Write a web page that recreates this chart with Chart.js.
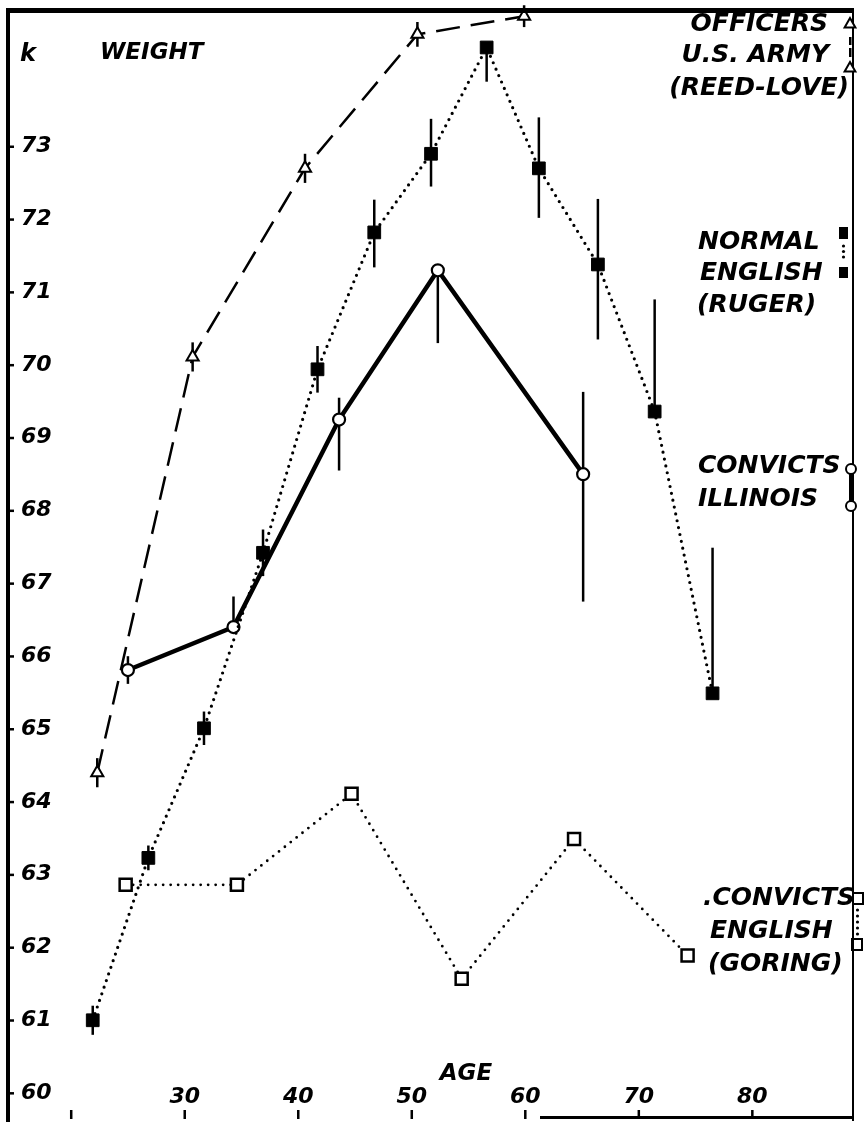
<!DOCTYPE html>
<html>
<head>
<meta charset="utf-8">
<script src="https://cdn.jsdelivr.net/npm/chart.js@4.4.0/dist/chart.umd.min.js"></script>
<style>
  html, body { margin: 0; padding: 0; background: #fff; }
  #wrap { width: 865px; height: 1130px; position: relative; }
</style>
</head>
<body>
<div id="wrap"><canvas id="weightChart"></canvas></div>
<script>
// ===== values (age in years, weight in kg) =====
const officersAge    = [22.3, 30.7, 40.6, 50.5, 59.9];
const officersWeight = [64.40, 70.11, 72.70, 74.54, 74.79];
const officersErr    = [0.2, 0.2, 0.2, 0.17, 0.15];

const rugerAge     = [21.9, 26.8, 31.7, 36.9, 41.7, 46.7, 51.7, 56.6, 61.2, 66.4, 71.4, 76.5];
const rugerWeight  = [61.0, 63.23, 65.01, 67.42, 69.94, 71.82, 72.90, 74.36, 72.70, 71.38, 69.36, 65.49];
const rugerErrLow  = [0.2, 0.17, 0.23, 0.32, 0.32, 0.48, 0.45, 0.47, 0.68, 1.03, 0, 0];
const rugerErrHigh = [0.2, 0.17, 0.23, 0.32, 0.32, 0.45, 0.48, 0, 0.7, 0.9, 1.54, 2.0];

const illinoisAge     = [25.0, 34.3, 43.6, 52.3, 65.1];
const illinoisWeight  = [65.81, 66.40, 69.25, 71.30, 68.50];
const illinoisErrLow  = [0.19, 0, 0.7, 1.0, 1.75];
const illinoisErrHigh = [0.19, 0.42, 0.3, 0, 1.13];

const goringAge    = [24.8, 34.6, 44.7, 54.4, 64.3, 74.3];
const goringWeight = [62.86, 62.86, 64.11, 61.57, 63.49, 61.89];

const ageTicks    = [20, 30, 40, 50, 60, 70, 80];
const ageLabels   = ['', '30', '40', '50', '60', '70', '80'];
const weightTicks = [60, 61, 62, 63, 64, 65, 66, 67, 68, 69, 70, 71, 72, 73];

const FONT = '"DejaVu Sans", "Liberation Sans", sans-serif';
const font = size => 'italic bold ' + size + 'px ' + FONT;

function toPoints(xs, ys) {
  return xs.map((a, i) => ({ x: a, y: ys[i] }));
}

// ===== small legend glyphs =====
function openTriangle(ctx, cx, cy, r) {
  ctx.beginPath();
  ctx.moveTo(cx, cy - r);
  ctx.lineTo(cx + r * 0.9, cy + r * 0.6);
  ctx.lineTo(cx - r * 0.9, cy + r * 0.6);
  ctx.closePath();
  ctx.fillStyle = '#fff';
  ctx.fill();
  ctx.stroke();
}
function openCircle(ctx, cx, cy, r) {
  ctx.beginPath();
  ctx.arc(cx, cy, r, 0, Math.PI * 2);
  ctx.fillStyle = '#fff';
  ctx.fill();
  ctx.stroke();
}
function dots(ctx, cx, y0, y1, step) {
  ctx.fillStyle = '#000';
  for (let yy = y0; yy <= y1; yy += step) {
    ctx.beginPath();
    ctx.arc(cx, yy, 1.6, 0, Math.PI * 2);
    ctx.fill();
  }
}

// ===== frame, error bars, lettering =====
const plotDecor = {
  id: 'plotDecor',
  beforeDatasetsDraw(chart) {
    const { ctx, scales: { x, y } } = chart;
    ctx.save();
    ctx.strokeStyle = '#000';
    ctx.lineWidth = 2.5;
    chart.data.datasets.forEach(ds => {
      if (!ds.errLow) return;
      ds.data.forEach((p, i) => {
        const lo = ds.errLow[i], hi = ds.errHigh[i];
        if (!lo && !hi) return;
        const px = x.getPixelForValue(p.x);
        ctx.beginPath();
        ctx.moveTo(px, y.getPixelForValue(p.y - lo));
        ctx.lineTo(px, y.getPixelForValue(p.y + hi));
        ctx.stroke();
      });
    });
    ctx.restore();
  },
  afterDraw(chart) {
    const { ctx, chartArea: { left, right, top, bottom }, scales: { x, y } } = chart;
    ctx.save();
    ctx.fillStyle = '#000';

    // frame: heavy left and top, thin right, partial bottom
    ctx.fillRect(left - 5, top - 3, 4, bottom - top + 6);
    ctx.fillRect(left - 5, top - 3, right - left + 5, 5);
    ctx.fillRect(right - 2, top - 3, 2, bottom - top + 5);
    const bx = x.getPixelForValue(61.3);
    ctx.fillRect(bx, bottom - 3, right - bx, 3);

    // y ticks and labels
    ctx.font = font(22);
    ctx.textAlign = 'left';
    ctx.textBaseline = 'middle';
    weightTicks.forEach(w => {
      const py = y.getPixelForValue(w);
      ctx.fillRect(left - 2, py - 1, 5, 2.5);
      ctx.fillText(String(w), left + 10, py);
    });

    // x ticks and labels
    ctx.textAlign = 'center';
    ageTicks.forEach((a, i) => {
      const px = x.getPixelForValue(a);
      ctx.fillRect(px - 1.2, bottom - 9, 2.5, 9);
      if (ageLabels[i]) ctx.fillText(ageLabels[i], px, bottom - 22);
    });

    // axis titles
    ctx.font = font(23);
    ctx.fillText('AGE', 466, 1074);
    ctx.textAlign = 'left';
    ctx.font = font(24);
    ctx.fillText('k', 20, 55);
    ctx.font = font(23);
    ctx.fillText('WEIGHT', 100, 53);

    // legend texts
    ctx.font = font(25);
    ctx.textAlign = 'right';
    ctx.fillText('OFFICERS', 828, 24);
    ctx.fillText('U.S. ARMY', 829, 55);
    ctx.fillText('(REED-LOVE)', 849, 88);
    ctx.textAlign = 'left';
    ctx.fillText('NORMAL', 698, 242);
    ctx.fillText('ENGLISH', 700, 273);
    ctx.fillText('(RUGER)', 697, 305);
    ctx.fillText('CONVICTS', 698, 466);
    ctx.fillText('ILLINOIS', 698, 499);
    ctx.fillText('.CONVICTS', 703, 898);
    ctx.fillText('ENGLISH', 710, 931);
    ctx.fillText('(GORING)', 708, 964);

    // legend glyphs
    ctx.strokeStyle = '#000';
    ctx.lineWidth = 2;
    openTriangle(ctx, 850, 24, 6);
    openTriangle(ctx, 850, 68, 6);
    ctx.fillStyle = '#000';
    ctx.fillRect(849, 37, 2.5, 8);
    ctx.fillRect(849, 48, 2.5, 9);

    ctx.fillRect(839, 227, 9, 12);
    ctx.fillRect(839, 267, 9, 11);
    dots(ctx, 843.5, 246, 262, 5.5);

    ctx.lineWidth = 4;
    ctx.beginPath();
    ctx.moveTo(851, 470);
    ctx.lineTo(851, 506);
    ctx.stroke();
    ctx.lineWidth = 2;
    openCircle(ctx, 851, 469, 5);
    openCircle(ctx, 851, 506, 5);

    ctx.strokeRect(853, 893, 10, 11);
    ctx.strokeRect(852, 939, 10, 11);
    dots(ctx, 857.5, 910, 934, 6);

    ctx.restore();
  }
};

new Chart(document.getElementById('weightChart'), {
  type: 'scatter',
  data: {
    datasets: [
      {
        label: 'Officers U.S. Army (Reed-Love)',
        data: toPoints(officersAge, officersWeight),
        showLine: true,
        borderColor: '#000',
        borderWidth: 2.5,
        borderDash: [24, 11],
        pointStyle: 'triangle',
        pointRadius: 7,
        pointBackgroundColor: '#fff',
        pointBorderColor: '#000',
        pointBorderWidth: 2,
        errLow: officersErr,
        errHigh: officersErr,
        clip: false
      },
      {
        label: 'Normal English (Ruger)',
        data: toPoints(rugerAge, rugerWeight),
        showLine: true,
        borderColor: '#000',
        borderWidth: 3.2,
        borderDash: [0, 7],
        borderCapStyle: 'round',
        pointStyle: 'rect',
        pointRadius: 9,
        pointBackgroundColor: '#000',
        pointBorderColor: '#000',
        pointBorderWidth: 1,
        errLow: rugerErrLow,
        errHigh: rugerErrHigh,
        clip: false
      },
      {
        label: 'Convicts Illinois',
        data: toPoints(illinoisAge, illinoisWeight),
        showLine: true,
        borderColor: '#000',
        borderWidth: 4.5,
        pointStyle: 'circle',
        pointRadius: 6,
        pointBackgroundColor: '#fff',
        pointBorderColor: '#000',
        pointBorderWidth: 2.2,
        errLow: illinoisErrLow,
        errHigh: illinoisErrHigh,
        clip: false
      },
      {
        label: 'Convicts English (Goring)',
        data: toPoints(goringAge, goringWeight),
        showLine: true,
        borderColor: '#000',
        borderWidth: 2.8,
        borderDash: [0, 7.5],
        borderCapStyle: 'round',
        pointStyle: 'rect',
        pointRadius: 8.5,
        pointBackgroundColor: '#fff',
        pointBorderColor: '#000',
        pointBorderWidth: 2.5,
        clip: false
      }
    ]
  },
  options: {
    responsive: true,
    maintainAspectRatio: false,
    animation: false,
    layout: { padding: { left: 8, right: 3, top: 8, bottom: 2 } },
    plugins: {
      legend: { display: false },
      tooltip: { enabled: false }
    },
    scales: {
      x: { type: 'linear', min: 14.7, max: 88.96, display: false },
      y: { type: 'linear', min: 59.644, max: 74.861, display: false }
    }
  },
  plugins: [plotDecor]
});
</script>
</body>
</html>
